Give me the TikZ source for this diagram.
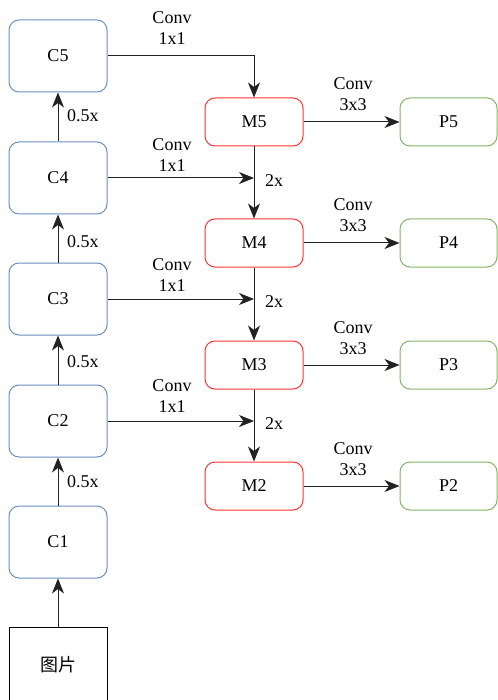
\documentclass[tikz,border=0pt]{standalone}
\usepackage{fontspec}
\setmainfont{Liberation Serif}
\newfontfamily\cjk{Noto Sans CJK SC}
\usetikzlibrary{arrows.meta,calc}
\definecolor{cblue}{HTML}{6C8EBF}
\definecolor{cred}{HTML}{FF3333}
\definecolor{cgreen}{HTML}{82B366}
\definecolor{lgray}{HTML}{222222}
\begin{document}
\begin{tikzpicture}[x=1pt,y=-1pt,
  every node/.style={font=\fontsize{18}{20.5}\selectfont},
  cbox/.style={draw=cblue,rounded corners=10pt,minimum width=98pt,minimum height=72pt,line width=1pt},
  mbox/.style={draw=cred,rounded corners=10pt,minimum width=98pt,minimum height=48pt,line width=1pt},
  pbox/.style={draw=cgreen,rounded corners=10pt,minimum width=97pt,minimum height=48pt,line width=1pt},
  picbox/.style={draw=black,minimum width=98pt,minimum height=76pt,line width=1pt},
  arr/.style={draw=lgray,line width=1pt,-{Stealth[length=15pt,width=12pt,inset=4.5pt]}},
  lbl/.style={align=center,inner sep=0pt},
  sidelbl/.style={anchor=west,inner sep=0pt}]
\useasboundingbox (0,0) rectangle (497,700);
% C column
\node[cbox] (C5) at (58,56) {C5};
\node[cbox] (C4) at (58,178) {C4};
\node[cbox] (C3) at (58,299) {C3};
\node[cbox] (C2) at (58,421) {C2};
\node[cbox] (C1) at (58,542) {C1};
\node[picbox] (pic) at (58,665) {\cjk 图片};
% M column
\node[mbox] (M5) at (254,122) {M5};
\node[mbox] (M4) at (254,243) {M4};
\node[mbox] (M3) at (254,365) {M3};
\node[mbox] (M2) at (254,486) {M2};
% P column
\node[pbox] (P5) at (448.5,122) {P5};
\node[pbox] (P4) at (448.5,243) {P4};
\node[pbox] (P3) at (448.5,365) {P3};
\node[pbox] (P2) at (448.5,486) {P2};
% bottom-up
\draw[arr] (pic.north) -- (C1.south);
\draw[arr] (C1.north) -- (C2.south);
\draw[arr] (C2.north) -- (C3.south);
\draw[arr] (C3.north) -- (C4.south);
\draw[arr] (C4.north) -- (C5.south);
\node[sidelbl] at (67,482) {0.5x};
\node[sidelbl] at (67,362) {0.5x};
\node[sidelbl] at (67,242) {0.5x};
\node[sidelbl] at (67,116) {0.5x};
% lateral
\draw[arr] (C5.east) -| (M5.north);
\coordinate (j4) at (C4.east -| M5.south);
\coordinate (j3) at (C3.east -| M4.south);
\coordinate (j2) at (C2.east -| M3.south);
\draw[arr] (C4.east) -- (j4);
\draw[arr] (C3.east) -- (j3);
\draw[arr] (C2.east) -- (j2);
\node[lbl] at (172,28) {Conv\\1x1};
\node[lbl] at (172,155) {Conv\\1x1};
\node[lbl] at (172,275) {Conv\\1x1};
\node[lbl] at (172,396) {Conv\\1x1};
% top-down
\draw[arr] (M5.south) -- (M4.north);
\draw[arr] (M4.south) -- (M3.north);
\draw[arr] (M3.south) -- (M2.north);
\node[sidelbl] at (265,181) {2x};
\node[sidelbl] at (265,302) {2x};
\node[sidelbl] at (265,424) {2x};
% outputs
\draw[arr] (M5.east) -- (P5.west);
\draw[arr] (M4.east) -- (P4.west);
\draw[arr] (M3.east) -- (P3.west);
\draw[arr] (M2.east) -- (P2.west);
\node[lbl] at (353,94) {Conv\\3x3};
\node[lbl] at (353,215) {Conv\\3x3};
\node[lbl] at (353,338) {Conv\\3x3};
\node[lbl] at (353,459) {Conv\\3x3};
\end{tikzpicture}
\end{document}
